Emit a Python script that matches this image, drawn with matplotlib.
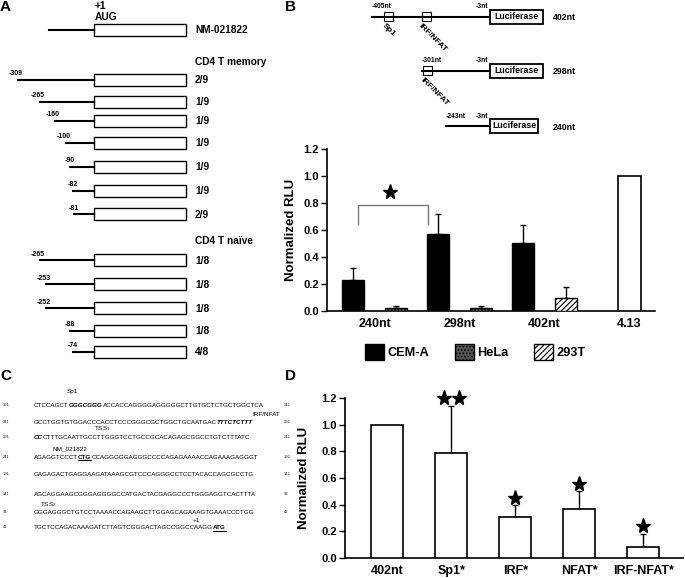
import matplotlib
matplotlib.use('Agg')
import matplotlib.pyplot as plt
from matplotlib.patches import Rectangle, Patch
import numpy as np

plt.rcParams['font.family'] = ['Liberation Sans', 'DejaVu Sans']
plt.rcParams['mathtext.default'] = 'regular'
plt.rcParams['hatch.linewidth'] = 0.8

# ---------------- data ----------------
# Panel A
nm_label = 'NM-021822'
memory_starts = ['-309', '-265', '-160', '-100', '-90', '-82', '-81']
memory_fracs = ['2/9', '1/9', '1/9', '1/9', '1/9', '1/9', '2/9']
naive_starts = ['-265', '-253', '-252', '-88', '-74']
naive_fracs = ['1/8', '1/8', '1/8', '1/8', '4/8']

# Panel B constructs
constructs = ['402nt', '298nt', '240nt']
construct_starts = ['-405nt', '-301nt', '-243nt']

# Panel B chart
b_groups = ['240nt', '298nt', '402nt', '4.13']
cema_vals = [0.23, 0.57, 0.505]
cema_err = [0.09, 0.15, 0.135]
hela_vals = [0.02, 0.02]
hela_err = [0.018, 0.02]
t293_vals = [0.10]
t293_err = [0.075]
ctrl_vals = [1.0]

# Panel C sequence
seq_left = ['391', '341', '291', '241', '191', '141', '91', '41']
seq_right = ['342', '292', '242', '192', '142', '92', '42', '']
seq_lines = [
    [('CTCCAGCT', 'n'), ('GGGCGGG', 'bi'), ('ACCACCAGGGGAGGGGGCTTGTGCTCTGCTGGCTCA', 'n')],
    [('GCCTGGTGTGGACCCACCTCCCGGGCGCTGGCTGCAATGAC', 'n'), ('TTTCTCTTT', 'bi')],
    [('CC', 'bi'), ('CTTTGCAATTGCCTTGGGTCCTGCCGCACAGAGCGGCCTGTCTTTATC', 'n')],
    [('AGAGGTCCCT', 'n'), ('CTG', 'bu'), ('CCAGGGGGAGGGCCCCAGAGAAAACCAGAAAGAGGGT', 'n')],
    [('GAGAGACTGAGGAAGATAAAGCGTCCCAGGGCCTCCTACACCAGCGCCTG', 'n')],
    [('AGCAGGAAGCGGGAGGGGCCATGACTACGAGGCCCTGGGAGGTCACTTTA', 'n')],
    [('GGGAGGGCTGTCCTAAAACCAGAAGCTTGGAGCAGAAAGTGAAACCCTGG', 'n')],
    [('TGCTCCAGACAAAGATCTTAGTCGGGACTAGCCGGCCAAGG', 'n'), ('ATG', 'bu')],
]
seq_notes = ['Sp1', 'IRF/NFAT', 'TSS$_1$', 'NM_021822', 'TSS$_2$', '+1']

# Panel D
d_labels = ['402nt', 'Sp1*', 'IRF*', 'NFAT*', 'IRF-NFAT*']
d_vals = [1.0, 0.79, 0.31, 0.37, 0.08]
d_err = [0.0, 0.355, 0.085, 0.13, 0.098]
d_stars = [0, 2, 1, 1, 1]

# ---------------- figure ----------------
W, H = 685, 578
fig = plt.figure(figsize=(W / 100, H / 100), dpi=100)


def fr(x0, y_top, x1, y_bot):
    return [x0 / W, 1 - y_bot / H, (x1 - x0) / W, (y_bot - y_top) / H]


ov = fig.add_axes([0, 0, 1, 1])
ov.set_xlim(0, W)
ov.set_ylim(H, 0)
ov.axis('off')

# panel letters
for lab, (x, y) in zip('ABCD', [(0, 7), (285, 7), (0, 376), (285, 376)]):
    ov.text(x, y, lab, fontsize=11, fontweight='bold', ha='left', va='center')

# ---------------- Panel A ----------------
box_x0, box_x1, box_h = 94, 186, 12
ov.text(95, 6, '+1', fontsize=7.3, fontweight='bold', ha='left', va='center')
ov.text(95, 17, 'AUG', fontsize=7.3, fontweight='bold', ha='left', va='center')
ov.plot([49, box_x0], [29.5, 29.5], color='k', lw=1.5)
ov.add_patch(Rectangle((box_x0, 29.5 - box_h / 2), box_x1 - box_x0, box_h, fc='white', ec='k', lw=1))
ov.text(195, 30, nm_label, fontsize=7.3, fontweight='bold', ha='left', va='center')

ov.text(195, 62, 'CD4 T memory', fontsize=7.3, fontweight='bold', ha='left', va='center')
ov.text(195, 241, 'CD4 T naïve', fontsize=7.3, fontweight='bold', ha='left', va='center')

mem_y = [79.5, 101.5, 121, 143, 167, 190.5, 214]
mem_x = [18, 40, 55, 66, 70, 73, 74]
nai_y = [260, 284, 308, 330.5, 351.5]
nai_x = [40, 46, 46, 70, 73]

for starts, fracs, ys, xs in [(memory_starts, memory_fracs, mem_y, mem_x),
                              (naive_starts, naive_fracs, nai_y, nai_x)]:
    for s, f, y, x in zip(starts, fracs, ys, xs):
        ov.plot([x, box_x0], [y, y], color='k', lw=1.5)
        ov.add_patch(Rectangle((box_x0, y - box_h / 2), box_x1 - box_x0, box_h, fc='white', ec='k', lw=1))
        ov.text(x + 5, y - 2.5, s, fontsize=5, fontweight='bold', ha='right', va='bottom')
        ov.text(195, y + 0.5, f, fontsize=7.3, fontweight='bold', ha='left', va='center')

# ---------------- Panel B constructs ----------------
row_y = [16.5, 70.5, 126]
line_x0 = [372, 422, 446]
luc_x1 = [543, 543, 538]
for name, st, y, x0, x1 in zip(constructs, construct_starts, row_y, line_x0, luc_x1):
    ov.plot([x0, 490], [y, y], color='k', lw=1.5)
    ov.add_patch(Rectangle((490, y - 7), x1 - 490, 14, fc='white', ec='k', lw=1.3))
    ov.text((490 + x1) / 2, y, 'Luciferase', fontsize=6.3, fontweight='bold', ha='center', va='center')
    ov.text(553, y + 1, name, fontsize=6.3, fontweight='bold', ha='left', va='center')
    ov.text(x0 + 10, y - 10, st, fontsize=4.9, fontweight='bold', ha='center', va='center')
    ov.text(482, y - 10, '-3nt', fontsize=4.9, fontweight='bold', ha='center', va='center')

# binding sites
for sx, sy in [(388.5, 16.5), (426.5, 16.5), (428, 70.5)]:
    ov.add_patch(Rectangle((sx - 4.5, sy - 4.5), 9, 9, fc='white', ec='k', lw=0.8))
ov.text(386, 22, 'Sp1', fontsize=6, fontweight='bold', rotation=-45, rotation_mode='anchor', ha='left', va='top')
ov.text(422, 22, 'IRF/NFAT', fontsize=6, fontweight='bold', rotation=-45, rotation_mode='anchor', ha='left', va='top')
ov.text(424, 76, 'IRF/NFAT', fontsize=6, fontweight='bold', rotation=-45, rotation_mode='anchor', ha='left', va='top')

# ---------------- Panel B chart ----------------
axb = fig.add_axes(fr(327, 149, 655, 311))
gx = np.arange(len(b_groups))
off, bw = 0.253, 0.26
xc = gx[:3] - off
axb.bar(xc, cema_vals, bw, color='black', edgecolor='black', lw=1, zorder=3)
axb.errorbar(xc, cema_vals, yerr=[np.zeros(3), cema_err], fmt='none', ecolor='k', elinewidth=1, capsize=2, capthick=1, zorder=2)
xh = gx[:2] + off
axb.bar(xh, hela_vals, bw, color='#555555', edgecolor='black', hatch='.....', lw=1, zorder=3)
axb.errorbar(xh, hela_vals, yerr=[np.zeros(2), hela_err], fmt='none', ecolor='k', elinewidth=1, capsize=2, capthick=1, zorder=2)
xt = gx[2:3] + off
axb.bar(xt, t293_vals, bw, color='white', edgecolor='black', hatch='//////', lw=1, zorder=3)
axb.errorbar(xt, t293_vals, yerr=[np.zeros(1), t293_err], fmt='none', ecolor='k', elinewidth=1, capsize=2, capthick=1, zorder=2)
axb.bar(gx[3:], ctrl_vals, bw, color='white', edgecolor='black', lw=1.2, zorder=3)

# significance bracket
bx0, bx1, btop, bleg = -0.19, 0.63, 0.785, 0.645
axb.plot([bx0, bx0, bx1, bx1], [bleg, btop, btop, bleg], color='#777777', lw=1)
axb.plot([(bx0 + bx1) / 2 - 0.04], [0.885], marker='*', ms=11, color='k', ls='none')

axb.set_xlim(-0.559, 3.30)
axb.set_ylim(0, 1.2)
axb.set_yticks(np.arange(0, 1.21, 0.2))
axb.set_yticklabels([f'{v:.1f}' for v in np.arange(0, 1.21, 0.2)], fontweight='bold', fontsize=8)
axb.set_xticks(gx)
axb.set_xticklabels(b_groups, fontweight='bold', fontsize=9)
axb.tick_params(axis='x', length=0, pad=5)
axb.tick_params(axis='y', length=4, width=1, direction='out', pad=2)
for sp in ['top', 'right']:
    axb.spines[sp].set_visible(False)
for sp in ['left', 'bottom']:
    axb.spines[sp].set_linewidth(1.2)
axb.patch.set_alpha(0)
axb.set_ylabel('Normalized RLU', fontsize=9.5, fontweight='bold')
axb.yaxis.set_label_coords(-0.09, 0.5)

handles = [Patch(fc='black', ec='black'),
           Patch(fc='#555555', ec='black', hatch='.....'),
           Patch(fc='white', ec='black', hatch='//////')]
axb.legend(handles, ['CEM-A', 'HeLa', '293T'], ncol=3, loc='upper left',
           bbox_to_anchor=(359 / W, 1 - 338 / H), bbox_transform=fig.transFigure,
           frameon=False, borderpad=0, handlelength=1.45, handleheight=1.45,
           handletextpad=0.3, columnspacing=2.0, prop={'weight': 'bold', 'size': 9.2})

# ---------------- Panel C ----------------
renderer = fig.canvas.get_renderer()
seq_y = [405, 421.7, 436.7, 456.7, 474.3, 494, 511.7, 527]
seq_x0 = 34
fs_seq = 4.5
for segs, ly, lft, rgt in zip(seq_lines, seq_y, seq_left, seq_right):
    ov.text(3, ly, lft, fontsize=3, ha='left', va='center', color='#222222')
    if rgt:
        ov.text(284, ly, rgt, fontsize=3, ha='left', va='center', color='#222222')
    x = seq_x0
    for txt, sty in segs:
        t = ov.text(x, ly + 2, txt, fontsize=fs_seq,
                    fontweight='bold' if 'b' in sty else 'normal',
                    fontstyle='italic' if 'i' in sty else 'normal',
                    ha='left', va='baseline')
        w = t.get_window_extent(renderer).width
        if 'u' in sty:
            ov.plot([x, x + w], [ly + 3.5, ly + 3.5], color='k', lw=0.8)
        x += w

note_pos = [(72, 391), (266, 414), (102, 429), (70, 449), (48, 505), (196, 520)]
for txt, (nx, ny) in zip(seq_notes, note_pos):
    ov.text(nx, ny, txt, fontsize=4.6, ha='center', va='center')

# ---------------- Panel D ----------------
axd = fig.add_axes(fr(345, 398.3, 683, 557.7))
dx = np.arange(len(d_labels))
axd.bar(dx, d_vals, 0.5, color='white', edgecolor='black', lw=1.2, zorder=3)
for xi, v, e, ns in zip(dx, d_vals, d_err, d_stars):
    if e > 0:
        axd.errorbar([xi], [v], yerr=[[0], [e]], fmt='none', ecolor='k', elinewidth=1, capsize=2, capthick=1, zorder=2)
    if ns == 1:
        axd.plot([xi], [v + e + 0.058], marker='*', ms=11, color='k', ls='none', clip_on=False)
    elif ns == 2:
        axd.plot([xi - 0.12, xi + 0.12], [v + e + 0.058] * 2, marker='*', ms=11, color='k', ls='none', clip_on=False)
axd.set_xlim(-0.66, 4.62)
axd.set_ylim(0, 1.2)
axd.set_yticks(np.arange(0, 1.21, 0.2))
axd.set_yticklabels([f'{v:.1f}' for v in np.arange(0, 1.21, 0.2)], fontweight='bold', fontsize=8)
axd.set_xticks(dx)
axd.set_xticklabels(d_labels, fontweight='bold', fontsize=9)
axd.tick_params(axis='x', length=0, pad=5)
axd.tick_params(axis='y', length=4, width=1, direction='out', pad=2)
for sp in ['top', 'right']:
    axd.spines[sp].set_visible(False)
for sp in ['left', 'bottom']:
    axd.spines[sp].set_linewidth(1.2)
axd.patch.set_alpha(0)
axd.set_ylabel('Normalized RLU', fontsize=9.5, fontweight='bold')
axd.yaxis.set_label_coords(-0.105, 0.5)

fig.savefig('out.png', dpi=100)
